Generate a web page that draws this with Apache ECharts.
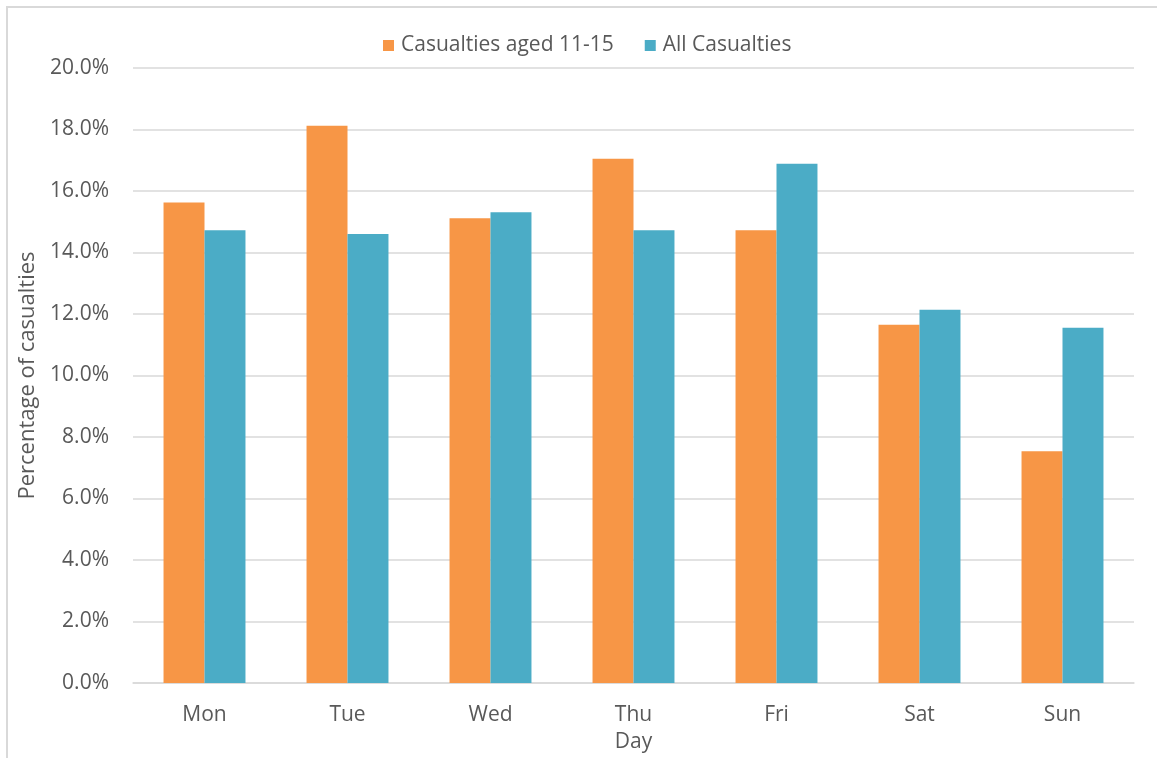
<!DOCTYPE html>
<html>
<head>
<meta charset="utf-8">
<script src="https://cdn.jsdelivr.net/npm/echarts@6/dist/echarts.min.js"></script>
<style>
  html, body { margin: 0; padding: 0; background: #fff; width: 1157px; height: 758px; overflow: hidden; }
  /* outer chart frame: only its top and left edges fall inside the page */
  #frame { position: absolute; left: 6px; top: 6px; width: 1151px; height: 752px; border-top: 2px solid #d9d9d9; border-left: 2px solid #d9d9d9; box-sizing: border-box; }
  #chart { position: absolute; left: 0; top: 0; width: 1157px; height: 758px; }
</style>
</head>
<body>
<div id="frame"></div>
<div id="chart"></div>
<script>
// Share of casualties by day of the week
const days = ['Mon', 'Tue', 'Wed', 'Thu', 'Fri', 'Sat', 'Sun'];
const aged11to15 = [15.63, 18.12, 15.11, 17.05, 14.72, 11.65, 7.54];
const allCasualties = [14.72, 14.60, 15.31, 14.72, 16.89, 12.14, 11.55];
const seriesNames = ['Casualties aged 11-15', 'All Casualties'];

const textColor = '#595959';
const font = 'Open Sans';

const chart = echarts.init(document.getElementById('chart'), null, { renderer: 'canvas' });
chart.setOption({
  animation: false,
  backgroundColor: 'transparent',
  color: ['#F79646', '#4BACC6'],
  textStyle: { fontFamily: font, color: textColor },
  legend: {
    top: 35,
    left: 383,
    padding: 0,
    itemWidth: 11,
    itemHeight: 11,
    itemGap: 31,
    icon: 'rect',
    textStyle: { fontFamily: font, fontSize: 21, color: textColor, padding: [0, 0, 0, 2] },
    data: seriesNames
  },
  grid: { left: 133, right: 23, top: 68, bottom: 72, containLabel: false },
  xAxis: {
    type: 'category',
    data: days,
    name: 'Day',
    nameLocation: 'middle',
    nameGap: 49,
    nameTextStyle: { fontFamily: font, fontSize: 21, color: textColor },
    axisLine: { lineStyle: { color: '#d9d9d9', width: 1.5 } },
    axisTick: { show: false },
    axisLabel: { fontFamily: font, fontSize: 21, color: textColor, margin: 22 }
  },
  yAxis: {
    type: 'value',
    min: 0,
    max: 20,
    interval: 2,
    name: 'Percentage of casualties',
    nameLocation: 'middle',
    nameGap: 90,
    nameRotate: 90,
    nameTextStyle: { fontFamily: font, fontSize: 22, color: textColor },
    axisLine: { show: false },
    axisTick: { show: false },
    splitLine: { lineStyle: { color: '#d9d9d9', width: 1.5 } },
    axisLabel: {
      fontFamily: font, fontSize: 21, color: textColor, margin: 24,
      formatter: v => v.toFixed(1) + '%'
    }
  },
  series: [
    { name: seriesNames[0], type: 'bar', data: aged11to15, barGap: '0%', barCategoryGap: '42.7%' },
    { name: seriesNames[1], type: 'bar', data: allCasualties, barGap: '0%', barCategoryGap: '42.7%' }
  ]
});
</script>
</body>
</html>
